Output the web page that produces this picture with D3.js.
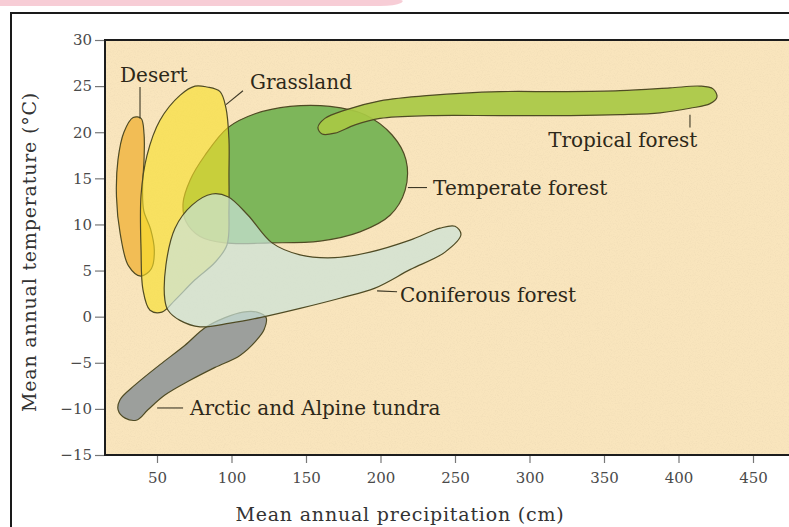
<!DOCTYPE html>
<html>
<head>
<meta charset="utf-8">
<script src="https://cdn.jsdelivr.net/npm/d3@7"></script>
<style>
  body { margin: 0; background: #ffffff; }
  svg { display: block; }
  .biome { stroke: #4f4b24; stroke-width: 1.2; stroke-linejoin: round; }
  .leader { stroke: #3d3826; stroke-width: 1.1; fill: none; }
  .label { font-family: "DejaVu Serif", serif; font-size: 20px; fill: #2d2819; }
  .tick text { font-family: "DejaVu Serif", serif; font-size: 15px; fill: #4a4a4a; }
  .tick line { stroke: #777; stroke-width: 1.2; }
  .axisTitle { font-family: "DejaVu Serif", serif; font-size: 19px; letter-spacing: 0.8px; fill: #333; }
</style>
</head>
<body>
<div id="chartDiv"></div>
<script>
"use strict";

// svg element parameters
var svgWidth = 789;
var svgHeight = 527;

// plot box (pixels)
var plotLeft = 105, plotTop = 40, plotBottom = 455, plotRight = 800;

// biome outlines: [mean annual precipitation (cm), mean annual temperature (°C)]
var desert = [[39.3, 21.5], [41.3, 19.8], [41.3, 17], [40.3, 14], [41.1, 11.5], [45.7, 9.5], [48.2, 7.2],
    [46.2, 5.2], [39.1, 4.4], [30.9, 5.5], [25.3, 9], [22.8, 13], [23.8, 17], [27.8, 20], [34, 21.6]];

var grassland = [[83.6, 24.9], [92.3, 24.4], [96.3, 22.6], [98.3, 19.2], [98.3, 15.4], [98.3, 11.6],
    [97, 7.8], [89, 5.9], [75.5, 4.0], [62.1, 1.8], [53.3, 0.5], [45.3, 0.7], [40.6, 2.9], [39.3, 7.2],
    [39.3, 13.2], [43.3, 17.5], [52, 21.3], [65.4, 24.0], [75.5, 25.0]];

var temperateForest = [[67.5, 12.3], [72.2, 14.8], [82.2, 17.5], [97.6, 20.5], [115.8, 22.0], [139.3, 22.8],
    [166.1, 22.8], [189.6, 21.9], [207.8, 19.7], [217.1, 17.0], [216.5, 13.7], [206.4, 11.0], [186.2, 9.2],
    [159.4, 8.2], [125.8, 8.0], [95.7, 8.0], [78.9, 8.7], [69.5, 10.3]];

var tropicalForest = [[158, 20.5], [162.7, 21.5], [176.2, 22.4], [199.7, 23.4], [233.2, 24.0], [280.2, 24.4],
    [320.5, 24.4], [360.8, 24.5], [394.3, 24.8], [414.4, 25.0], [423.2, 24.7], [425.8, 23.8], [421.2, 23.1],
    [407.7, 22.6], [387.6, 22.1], [360.8, 21.9], [327.2, 21.8], [280.2, 21.8], [233.2, 21.8], [199.7, 21.5],
    [182.9, 20.8], [169.4, 19.9], [160.8, 19.8]];

var coniferousForest = [[55.3, 1.8], [56, 5.6], [62.1, 9.6], [73.5, 12.1], [86.9, 13.3], [97.6, 13.0], [111.1, 11.0],
    [127.2, 8.0], [146, 6.7], [169.4, 6.4], [193, 7.0], [219.8, 8.3], [240, 9.6], [250, 9.8], [254, 8.9],
    [243.3, 7.0], [219.8, 5.1], [196.3, 3.1], [172.8, 2.0], [146, 0.9], [119.1, -0.1], [99, -0.7],
    [78.9, -1.1], [65.4, -0.4], [57.4, 0.7]];

var tundra = [[117.1, 0.5], [123.2, -0.1], [121.9, -1.4], [117.1, -2.5], [105.7, -4.2], [89, -5.5], [72.2, -6.9],
    [55.3, -8.5], [43.9, -10.1], [36.6, -11.2], [28.6, -11.0], [23.9, -10.1], [25.2, -9.0], [35.3, -7.4],
    [52, -5.2], [68.8, -3.1], [82.2, -1.2], [95.7, -0.1], [107.7, 0.5]];

// label text, anchor (cm, °C) and leader line ends (cm, °C)
var labelNames = ["Desert", "Grassland", "Tropical forest", "Temperate forest", "Coniferous forest", "Arctic and Alpine tundra"];
var labelAnchors = [[25.2, 25.45], [112.4, 24.7], [312.5, 18.4], [235.3, 13.2], [213.1, 1.6], [72.2, -10.65]];
var leaderLines = [
    [[38.6, 24.9], [38.6, 21.5]],
    [[107.7, 24.5], [96.3, 23.0]],
    [[407.7, 21.9], [407.7, 20.5]],
    [[218.4, 14.0], [231.2, 14.0]],
    [[197.7, 2.8], [211.1, 2.7]],
    [[50.1, -9.9], [67.5, -9.9]]
];

// tick values
var xTicks = [50, 100, 150, 200, 250, 300, 350, 400, 450];
var yTicks = [-15, -10, -5, 0, 5, 10, 15, 20, 25, 30];

// draw order and look of each biome
var biomes = [
    {id: "temperate", points: temperateForest, fill: "#7db65a", opacity: 1},
    {id: "desert", points: desert, fill: "#f2bd55", opacity: 1},
    {id: "grassland", points: grassland, fill: "#f7de28", opacity: 0.62},
    {id: "tundra", points: tundra, fill: "#9c9f9c", opacity: 1},
    {id: "coniferous", points: coniferousForest, fill: "#cae3d9", opacity: 0.7},
    {id: "tropical", points: tropicalForest, fill: "#a8c944", opacity: 0.92}
];

var svg = d3.select("#chartDiv").append("svg").attr("width", svgWidth).attr("height", svgHeight);

// scales
var x = d3.scaleLinear().domain([50, 450]).range([157, 753]);
var y = d3.scaleLinear().domain([-15, 30]).range([plotBottom, plotTop]);

// paper grain for the plot background
var defs = svg.append("defs");
var grain = defs.append("filter").attr("id", "grain").attr("x", 0).attr("y", 0).attr("width", 1).attr("height", 1);
grain.append("feTurbulence").attr("type", "fractalNoise").attr("baseFrequency", 0.85).attr("numOctaves", 2).attr("seed", 7);
grain.append("feColorMatrix").attr("type", "matrix")
    .attr("values", "0 0 0 0 0.55  0 0 0 0 0.45  0 0 0 0 0.3  1.6 0 0 0 -0.7");

// pink strip at the very top of the page
svg.append("path")
    .attr("d", "M0,0 H400 Q405,0 401,3 Q395,6 380,6 H0 Z")
    .attr("fill", "#f7cdd6");

// outer frame
svg.append("rect")
    .attr("x", 11).attr("y", 13)
    .attr("width", 820).attr("height", 600)
    .attr("fill", "none").attr("stroke", "#1a1a1a").attr("stroke-width", 2);

// plot background
svg.append("rect")
    .attr("x", plotLeft).attr("y", plotTop)
    .attr("width", plotRight - plotLeft).attr("height", plotBottom - plotTop)
    .attr("fill", "#f9e5bd");

svg.append("rect")
    .attr("x", plotLeft).attr("y", plotTop)
    .attr("width", plotRight - plotLeft).attr("height", plotBottom - plotTop)
    .attr("filter", "url(#grain)")
    .attr("opacity", 0.18);

var clip = svg.append("clipPath").attr("id", "plotClip");
clip.append("rect").attr("x", plotLeft).attr("y", plotTop)
    .attr("width", plotRight - plotLeft).attr("height", plotBottom - plotTop);

// biome shapes
var outline = d3.line()
    .x(function (d) { return x(d[0]); })
    .y(function (d) { return y(d[1]); })
    .curve(d3.curveCatmullRomClosed.alpha(0.5));

svg.append("g").attr("class", "biomes").attr("clip-path", "url(#plotClip)")
    .selectAll("path").data(biomes).enter()
    .append("path")
    .attr("class", "biome")
    .attr("id", function (d) { return d.id; })
    .attr("d", function (d) { return outline(d.points); })
    .attr("fill", function (d) { return d.fill; })
    .attr("fill-opacity", function (d) { return d.opacity; });

// leader lines and labels
svg.append("g").selectAll("line").data(leaderLines).enter()
    .append("line")
    .attr("class", "leader")
    .attr("x1", function (d) { return x(d[0][0]); })
    .attr("y1", function (d) { return y(d[0][1]); })
    .attr("x2", function (d) { return x(d[1][0]); })
    .attr("y2", function (d) { return y(d[1][1]); });

svg.append("g").selectAll("text").data(labelNames).enter()
    .append("text")
    .attr("class", "label")
    .attr("x", function (d, i) { return x(labelAnchors[i][0]); })
    .attr("y", function (d, i) { return y(labelAnchors[i][1]); })
    .text(function (d) { return d; });

// plot border (left, top, bottom)
svg.append("path")
    .attr("d", "M" + (plotRight) + "," + plotTop + " H" + plotLeft + " V" + plotBottom + " H" + plotRight)
    .attr("fill", "none").attr("stroke", "#1c1c1c").attr("stroke-width", 2);

// axes
var xAxis = svg.append("g")
    .attr("transform", "translate(0," + (plotBottom + 1) + ")")
    .call(d3.axisBottom(x).tickValues(xTicks).tickSize(7).tickPadding(9));
xAxis.select(".domain").remove();

var yAxis = svg.append("g")
    .attr("transform", "translate(" + (plotLeft - 1) + ",0)")
    .call(d3.axisLeft(y).tickValues(yTicks).tickSize(9).tickPadding(3));
yAxis.select(".domain").remove();

// axis titles
svg.append("text")
    .attr("class", "axisTitle")
    .attr("x", 400).attr("y", 521)
    .attr("text-anchor", "middle")
    .text("Mean annual precipitation (cm)");

svg.append("text")
    .attr("class", "axisTitle")
    .attr("transform", "translate(36,252) rotate(-90)")
    .attr("text-anchor", "middle")
    .text("Mean annual temperature (°C)");
</script>
</body>
</html>
